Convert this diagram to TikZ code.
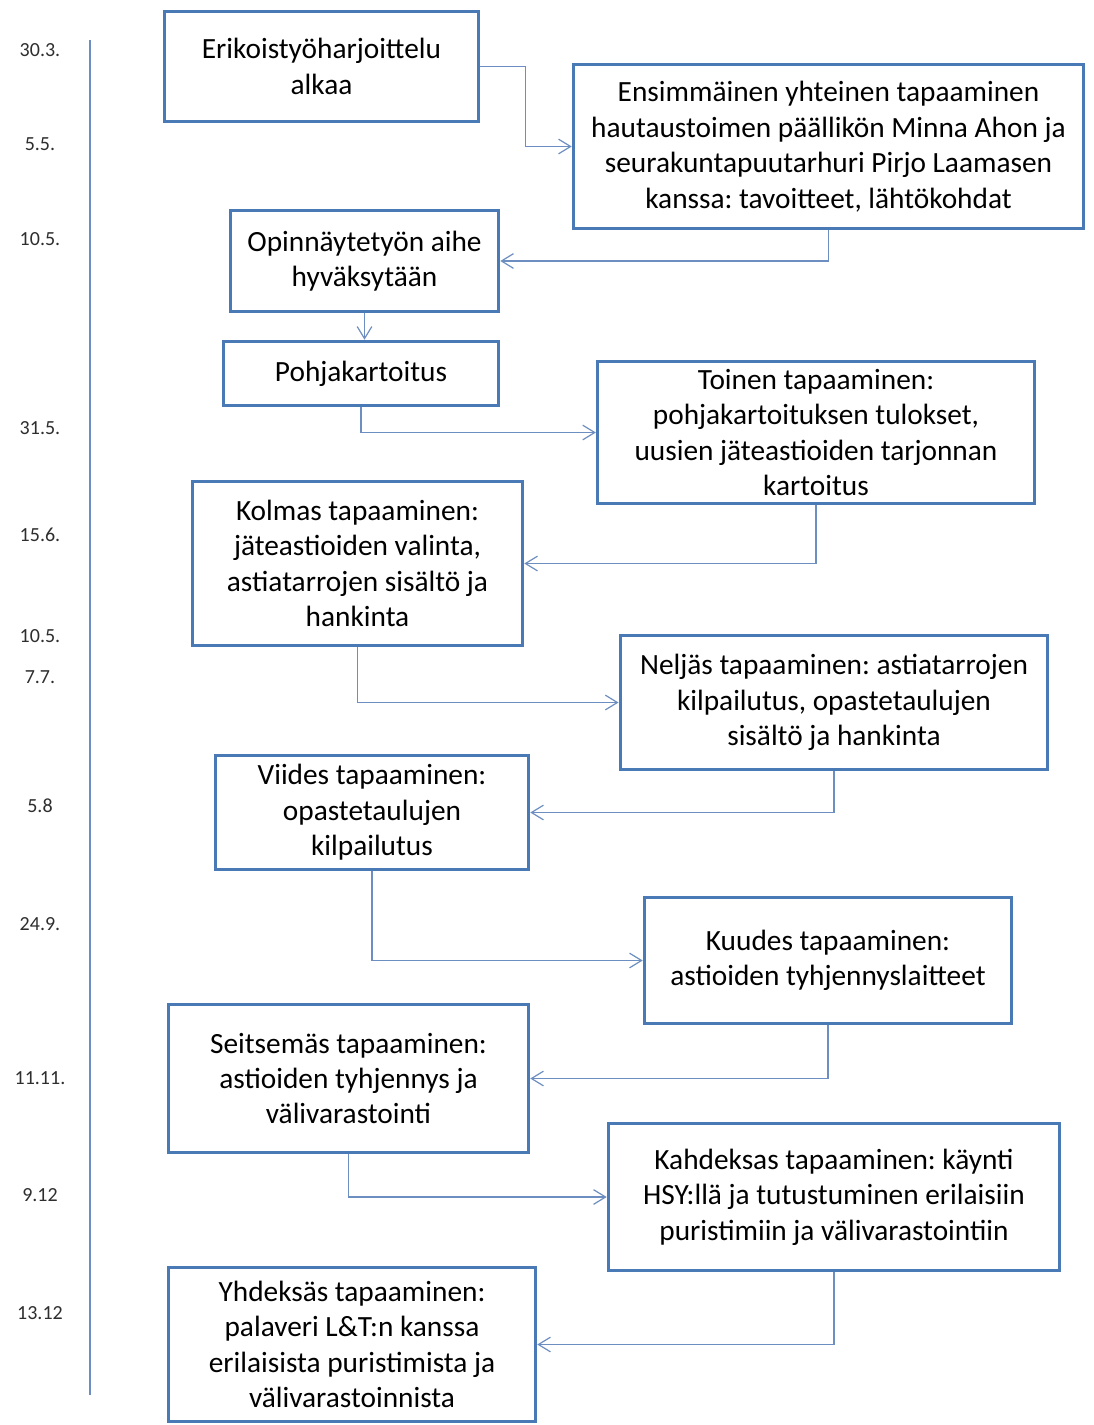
\documentclass[tikz,border=0pt]{standalone}
\usepackage{fontspec}
\setmainfont{Carlito}
\usetikzlibrary{arrows.meta}
\definecolor{boxblue}{HTML}{4A7AB5}
\definecolor{linkblue}{HTML}{6D8EC0}
\definecolor{datetext}{HTML}{2E2E2E}
\frenchspacing
\begin{document}
\begin{tikzpicture}[x=0.75pt,y=-0.75pt,
  box/.style={draw=boxblue, line width=2.7pt, fill=white, align=center, inner sep=0pt,
    font=\fontsize{22}{26.6}\selectfont, text=black},
  conn/.style={draw=linkblue, line width=1pt, -{Straight Barb[length=9pt,width=11pt,line width=0.9pt]}},
  datelabel/.style={font=\fontsize{15}{18}\selectfont, text=datetext, inner sep=0pt}]
\useasboundingbox (0,0) rectangle (1093,1425);
\fill[white] (0,0) rectangle (1093,1425);
% timeline
\draw[linkblue, line width=1.4pt] (90,40) -- (90,1395);
\node[datelabel] (d1) at (40,50) {30.3.};
\node[datelabel] (d2) at (40,144) {5.5.};
\node[datelabel] (d3) at (40,239) {10.5.};
\node[datelabel] (d4) at (40,428) {31.5.};
\node[datelabel] (d5) at (40,535) {15.6.};
\node[datelabel] (d6) at (40,636) {10.5.};
\node[datelabel] (d7) at (40,677) {7.7.};
\node[datelabel] (d8) at (40,806) {5.8};
\node[datelabel] (d9) at (40,924) {24.9.};
\node[datelabel] (d10) at (40,1078) {11.11.};
\node[datelabel] (d11) at (40,1195) {9.12};
\node[datelabel] (d12) at (40,1313) {13.12};
% boxes
\node[box, minimum width=235.5pt, minimum height=82.5pt] (b1) at (321.5,66.5) {Erikoistyöharjoittelu\\alkaa};
\node[box, minimum width=382.5pt, minimum height=123pt] (b2) at (828.5,146.5) {Ensimmäinen yhteinen tapaaminen\\hautaustoimen päällikön Minna Ahon ja\\seurakuntapuutarhuri Pirjo Laamasen\\kanssa: tavoitteet, lähtökohdat};
\node[box, minimum width=201pt, minimum height=76pt] (b3) at (364.5,261) {Opinnäytetyön aihe\\hyväksytään};
\node[box, minimum width=206pt, minimum height=48pt] (b4) at (361,373.5) {Pohjakartoitus};
\node[box, minimum width=327.5pt, minimum height=106.5pt] (b5) at (816,432.5) {Toinen tapaaminen:\\pohjakartoituksen tulokset,\\uusien jäteastioiden tarjonnan\\kartoitus};
\node[box, minimum width=247.5pt, minimum height=123pt] (b6) at (357.5,563.5) {Kolmas tapaaminen:\\jäteastioiden valinta,\\astiatarrojen sisältö ja\\hankinta};
\node[box, minimum width=320.5pt, minimum height=100.5pt] (b7) at (834,702.5) {Neljäs tapaaminen: astiatarrojen\\kilpailutus, opastetaulujen\\sisältö ja hankinta};
\node[box, minimum width=234.75pt, minimum height=85.5pt] (b8) at (372,812.5) {Viides tapaaminen:\\opastetaulujen\\kilpailutus};
\node[box, minimum width=275.25pt, minimum height=94.5pt] (b9) at (828,960.5) {Kuudes tapaaminen:\\astioiden tyhjennyslaitteet};
\node[box, minimum width=270pt, minimum height=111pt] (b10) at (348.5,1078.5) {Seitsemäs tapaaminen:\\astioiden tyhjennys ja\\välivarastointi};
\node[box, minimum width=338.25pt, minimum height=110.25pt] (b11) at (834,1197) {Kahdeksas tapaaminen: käynti\\HSY:llä ja tutustuminen erilaisiin\\puristimiin ja välivarastointiin};
\node[box, minimum width=275.25pt, minimum height=115.5pt] (b12) at (352,1344.5) {Yhdeksäs tapaaminen:\\palaveri L\&T:n kanssa\\erilaisista puristimista ja\\välivarastoinnista};
% connectors
\draw[conn] (b1.east) -- ++(45,0) |- (b2.west);
\draw[conn] (b2.south) |- (b3.east);
\draw[conn] (b3.south) -- (b3.south |- b4.north);
\draw[conn] (b4.south) |- (b5.west);
\draw[conn] (b5.south) |- (b6.east);
\draw[conn] (b6.south) |- (b7.west);
\draw[conn] (b7.south) |- (b8.east);
\draw[conn] (b8.south) |- (b9.west);
\draw[conn] (b9.south) |- (b10.east);
\draw[conn] (b10.south) |- (b11.west);
\draw[conn] (b11.south) |- (b12.east);
\end{tikzpicture}
\end{document}
